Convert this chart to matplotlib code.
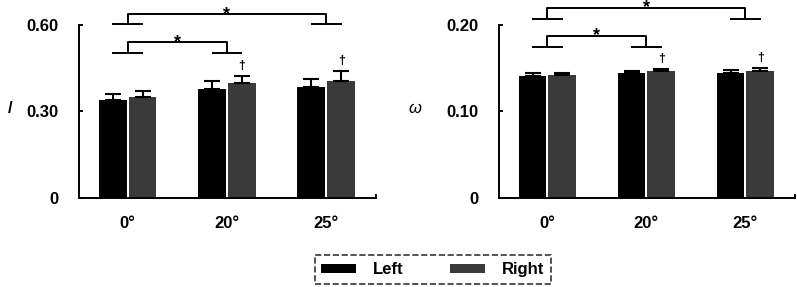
import matplotlib
matplotlib.use("Agg")
import matplotlib.pyplot as plt
import numpy as np
from matplotlib.patches import Patch

plt.rcParams["font.family"] = ["Liberation Sans", "DejaVu Sans"]
plt.rcParams["font.weight"] = "bold"
plt.rcParams["font.size"] = 12

angles = ["0°", "20°", "25°"]

# left panel
leftMean1 = [0.339, 0.377, 0.383]
leftErr1 = [0.022, 0.029, 0.030]
rightMean1 = [0.350, 0.397, 0.405]
rightErr1 = [0.020, 0.025, 0.035]

# right panel (omega)
leftMean2 = [0.1408, 0.1439, 0.1447]
leftErr2 = [0.0028, 0.0027, 0.0027]
rightMean2 = [0.1416, 0.1459, 0.1466]
rightErr2 = [0.0023, 0.0023, 0.0034]

panels = [
    dict(left=leftMean1, leftErr=leftErr1, right=rightMean1, rightErr=rightErr1,
         ymax=0.60, ticks=[0, 0.30, 0.60], tickLabels=["0", "0.30", "0.60"],
         ylabel="/", labelX=-0.232,
         upper=(0.6007, 0.636), lower=(0.501, 0.538)),
    dict(left=leftMean2, leftErr=leftErr2, right=rightMean2, rightErr=rightErr2,
         ymax=0.20, ticks=[0, 0.10, 0.20], tickLabels=["0", "0.10", "0.20"],
         ylabel="ω", labelX=-0.284,
         upper=(0.2065, 0.2196), lower=(0.1742, 0.1873)),
]

axPositions = [[0.0991, 0.310, 0.3726, 0.6045], [0.626, 0.310, 0.3714, 0.6045]]

fig = plt.figure(figsize=(7.97, 2.87), dpi=100)

x = np.arange(len(angles))
width = 0.28
offset = 0.15
rightColor = "#3a3a3a"


def bracket(ax, x1, x2, feetY, lineY, half):
    kw = dict(color="black", lw=1.4, clip_on=False, solid_capstyle="butt")
    ax.plot([x1, x1, x2, x2], [feetY, lineY, lineY, feetY], **kw)
    ax.plot([x1 - half, x1 + half], [feetY, feetY], **kw)
    ax.plot([x2 - half, x2 + half], [feetY, feetY], **kw)


for pos, p in zip(axPositions, panels):
    ax = fig.add_axes(pos)
    ax.bar(x - offset, p["left"], width, color="black",
           yerr=[np.zeros(3), p["leftErr"]], capsize=5.8,
           error_kw=dict(elinewidth=1.5, capthick=1.5, ecolor="black"))
    ax.bar(x + offset, p["right"], width, color=rightColor,
           yerr=[np.zeros(3), p["rightErr"]], capsize=5.8,
           error_kw=dict(elinewidth=1.5, capthick=1.5, ecolor="black"))

    ax.set_xlim(-0.49, 2.5)
    ax.set_ylim(0, p["ymax"])
    ax.set_yticks(p["ticks"])
    ax.set_yticklabels(p["tickLabels"], fontsize=12, fontweight="bold")
    ax.set_xticks(x)
    ax.set_xticklabels(angles, fontsize=12, fontweight="bold")
    ax.tick_params(axis="y", direction="in", length=3, width=1.4, pad=15)
    ax.tick_params(axis="x", length=0, pad=13)
    ax.spines["top"].set_visible(False)
    ax.spines["right"].set_visible(False)
    ax.spines["left"].set_linewidth(1.4)
    ax.spines["bottom"].set_linewidth(1.4)
    ax.plot([1, 1], [0, 0.02], transform=ax.transAxes, color="black",
            lw=1.4, clip_on=False)

    ax.set_ylabel(p["ylabel"], rotation=0, fontsize=12,
                  fontstyle="italic" if p["ylabel"] == "ω" else "normal",
                  fontweight="normal" if p["ylabel"] == "ω" else "bold")
    ax.yaxis.set_label_coords(p["labelX"], 0.47)

    half = 0.155
    bracket(ax, x[0], x[2], p["upper"][0], p["upper"][1], half)
    bracket(ax, x[0], x[1], p["lower"][0], p["lower"][1], half)
    ax.text(x[1], p["upper"][1], "*", ha="center", va="center", fontsize=13,
            fontweight="bold", clip_on=False)
    ax.text((x[0] + x[1]) / 2, p["lower"][1], "*", ha="center", va="center",
            fontsize=13, fontweight="bold", clip_on=False)

    for i in [1, 2]:
        top = p["right"][i] + p["rightErr"][i]
        ax.annotate("†", (x[i] + offset, top), xytext=(0, 3),
                    textcoords="offset points", ha="center", va="bottom",
                    fontsize=9, fontweight="bold")

handles = [Patch(facecolor="black", label="Left"),
           Patch(facecolor=rightColor, label="Right")]
leg = fig.legend(handles=handles, loc="center", bbox_to_anchor=(0.543, 0.061),
                 ncol=2, frameon=True, fancybox=False, fontsize=12,
                 handlelength=2.1, handleheight=0.45, handletextpad=1.0,
                 columnspacing=2.8, borderpad=0.4)
frame = leg.get_frame()
frame.set_linestyle("--")
frame.set_edgecolor("black")
frame.set_linewidth(1.2)
for t in leg.get_texts():
    t.set_fontweight("bold")

fig.savefig("out.png", dpi=100)
